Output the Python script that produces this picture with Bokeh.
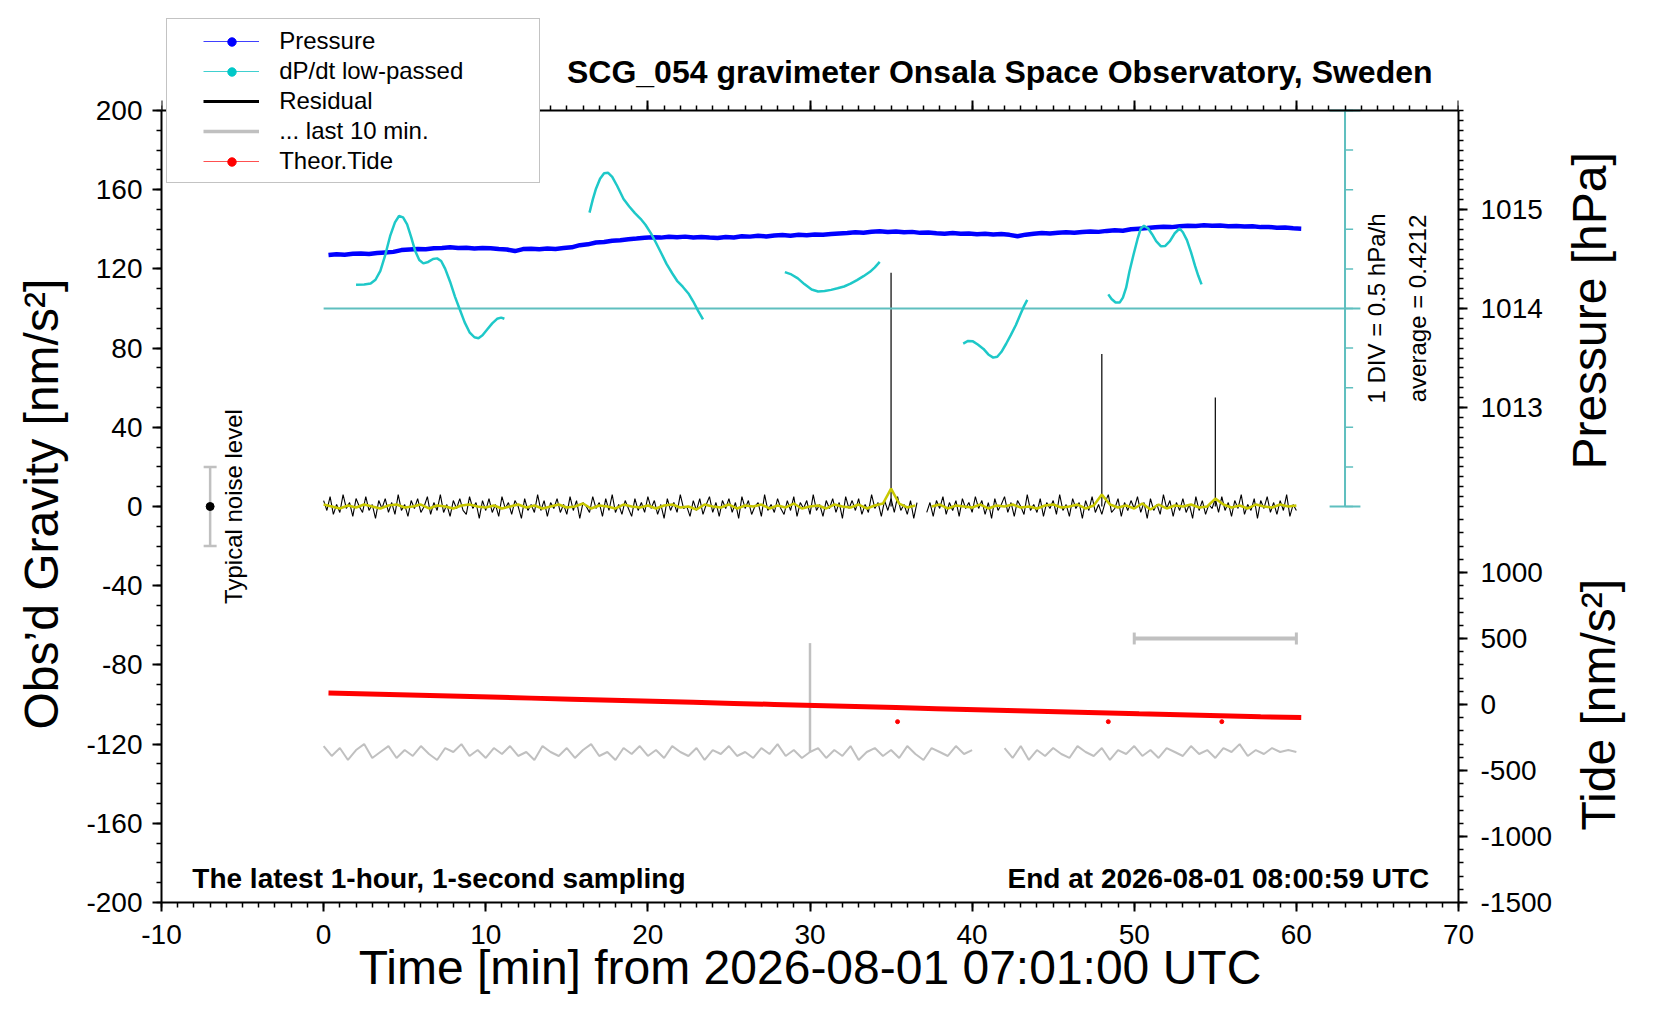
import math
import numpy as np
from bokeh.plotting import figure
from bokeh.layouts import row
from bokeh.models import (Range1d, LinearAxis, SingleIntervalTicker, FixedTicker,
                          PrintfTickFormatter, CustomJSTickFormatter, Label, Legend, LegendItem)
from bokeh.embed import file_html
from bokeh.resources import INLINE

FONT = "Liberation Sans"
nan = float("nan")

# ---------------- data ----------------
# Pressure [hPa], sampled every 0.5 min starting at 0.3 min
pressure_t0, pressure_step = 0.3, 0.5
pressure_hpa = [
    1014.540, 1014.548, 1014.544, 1014.552, 1014.556, 1014.550, 1014.560, 1014.566, 1014.572, 1014.590,
    1014.596, 1014.602, 1014.598, 1014.608, 1014.612, 1014.618, 1014.610, 1014.614, 1014.606, 1014.612,
    1014.608, 1014.600, 1014.596, 1014.580, 1014.600, 1014.604, 1014.598, 1014.606, 1014.602, 1014.610,
    1014.618, 1014.640, 1014.648, 1014.666, 1014.672, 1014.684, 1014.690, 1014.700, 1014.706, 1014.714,
    1014.720, 1014.716, 1014.724, 1014.720, 1014.726, 1014.718, 1014.722, 1014.716, 1014.712, 1014.722,
    1014.718, 1014.730, 1014.726, 1014.734, 1014.728, 1014.738, 1014.742, 1014.736, 1014.744, 1014.740,
    1014.748, 1014.744, 1014.752, 1014.758, 1014.762, 1014.770, 1014.766, 1014.776, 1014.780, 1014.772,
    1014.778, 1014.770, 1014.774, 1014.764, 1014.768, 1014.760, 1014.756, 1014.762, 1014.754, 1014.758,
    1014.750, 1014.754, 1014.748, 1014.752, 1014.744, 1014.730, 1014.746, 1014.756, 1014.762, 1014.758,
    1014.766, 1014.770, 1014.764, 1014.772, 1014.778, 1014.774, 1014.784, 1014.790, 1014.786, 1014.800,
    1014.806, 1014.812, 1014.820, 1014.826, 1014.822, 1014.830, 1014.836, 1014.834, 1014.840, 1014.836,
    1014.838, 1014.832, 1014.834, 1014.828, 1014.830, 1014.822, 1014.824, 1014.816, 1014.818, 1014.810,
    1014.806,
]

# dP/dt low-passed [hPa/h], deviation from the average, in five pieces
dpdt_average = 0.4212
dpdt_t = [
    [2.0, 2.5, 2.9, 3.2, 3.5, 3.8, 4.1, 4.4, 4.65, 4.9, 5.15, 5.4, 5.65, 5.9, 6.15, 6.45, 6.75, 7.0,
     7.25, 7.5, 7.8, 8.1, 8.4, 8.7, 9.0, 9.3, 9.55, 9.8, 10.1, 10.4, 10.7, 10.95, 11.15],
    [16.4, 16.6, 16.8, 17.05, 17.3, 17.55, 17.8, 18.1, 18.5, 18.85, 19.2, 19.55, 19.85, 20.2, 20.5,
     20.85, 21.15, 21.5, 21.8, 22.15, 22.5, 22.8, 23.1, 23.4],
    [28.45, 28.85, 29.25, 29.65, 30.1, 30.5, 30.9, 31.3, 31.7, 32.1, 32.5, 32.9, 33.3, 33.7, 34.0, 34.3],
    [39.45, 39.75, 40.05, 40.35, 40.7, 41.0, 41.3, 41.55, 41.8, 42.1, 42.4, 42.7, 43.0, 43.2, 43.4],
    [48.4, 48.6, 48.85, 49.1, 49.3, 49.5, 49.7, 49.95, 50.2, 50.4, 50.6, 50.85, 51.1, 51.35, 51.65,
     51.9, 52.2, 52.5, 52.8, 53.0, 53.25, 53.5, 53.75, 53.95, 54.15],
]
dpdt_dev = [
    [0.300, 0.303, 0.315, 0.363, 0.475, 0.675, 0.913, 1.088, 1.168, 1.150, 1.063, 0.900, 0.725, 0.613,
     0.570, 0.588, 0.625, 0.633, 0.600, 0.500, 0.338, 0.150, -0.013, -0.175, -0.300, -0.363, -0.375,
     -0.338, -0.263, -0.188, -0.130, -0.115, -0.130],
    [1.210, 1.375, 1.513, 1.638, 1.708, 1.713, 1.663, 1.550, 1.383, 1.288, 1.205, 1.133, 1.058, 0.945,
     0.830, 0.688, 0.563, 0.445, 0.350, 0.275, 0.190, 0.088, -0.030, -0.138],
    [0.460, 0.430, 0.380, 0.308, 0.240, 0.215, 0.220, 0.235, 0.255, 0.278, 0.313, 0.358, 0.408, 0.463,
     0.520, 0.588],
    [-0.443, -0.410, -0.415, -0.455, -0.510, -0.580, -0.620, -0.610, -0.550, -0.445, -0.330, -0.208,
     -0.063, 0.030, 0.108],
    [0.178, 0.120, 0.075, 0.075, 0.138, 0.263, 0.463, 0.675, 0.875, 1.008, 1.045, 1.013, 0.938, 0.850,
     0.785, 0.788, 0.850, 0.950, 1.010, 0.963, 0.863, 0.713, 0.538, 0.413, 0.305],
]

# Residual [nm/s^2], every 0.2 min
residual_step = 0.2
residual = [
    3, -2, 5, -4, 1, -3, 6, -1, 2, -5, 4, 0, -3, 5, -2, 1, -6, 3, -1, 4, -3, 2, -4, 6, -2,
    1, -5, 3, -1, 4, -3, 0, 5, -4, 2, -2, 6, -3, 1, -5, 3, -1, 4, -2, -4, 5, -1, 2, -6, 3,
    -2, 4, -3, 1, -5, 5, -1, 2, -4, 3, 0, -6, 4, -2, 1, -3, 6, -2, 3, -5, 2, -1, 4, -3, 1,
    -4, 5, -2, 3, -6, 2, 0, -3, 5, -1, 2, -5, 4, -2, 6, -3, 1, -4, 3, -1, -5, 4, -2, 2, -3,
    5, -1, 3, -4, 1, -6, 4, -2, 2, -3, 6, -1, 0, -5, 3, -2, 4, -4, 1, 5, -3, 2, -5, 3, -1,
    4, -3, 2, -6, 5, -1, 3, -4, 0, 2, -5, 6, -2, 1, -3, 4, -1, -4, 3, -2, 5, -5, 2, -1, 3,
    -4, 6, -2, 1, -5, 3, -1, 4, -3, 2, -6, 5, -1, 3, -2, 4, -4, 1, -3, 6, -1, 2, -5, 3, -2,
    4, -3, 5, -2, 1, -4, 3, -6, 2, nan, nan, -3, 2, -5, 3, -1, 5, -4, 2, -2, 3, -5, 4, -1, 2,
    -3, 5, -1, 3, -4, 2, -6, 4, -2, 1, 5, -3, 2, -5, 3, 0, -4, 6, -2, 1, -3, 4, -5, 2, -1,
    3, -4, 6, -2, 1, -5, 4, -1, 2, -6, 3, -2, 5, -3, 1, -4, 2, 6, -3, -1, 4, -5, 2, -2, 3,
    -1, 5, -3, 2, -6, 4, -2, 1, -4, 6, -1, 3, -5, 2, -2, 4, -3, 1, -6, 5, -2, 3, -4, 1, -1,
    4, -3, 5, -2, 2, -5, 3, -1, 6, -4, 1, -2, 4, -6, 3, -1, 5, -3, 2, -4, 3, -2, 6, -5, 1,
    -2,
]
residual_spike_t = [35.0, 48.0, 55.0]
residual_spike_v = [118, 77, 55]

# Low-passed residual (yellow), every 0.5 min
smooth_step = 0.5
residual_smooth = [
    1, 0, -1, 0.5, -0.5, 1, 0, -1, 0.5, 1,
    -0.5, 0, 1, -1, 0.5, 0, -1, 0.5, 1, 0,
    -0.5, 0.5, -1, 0, 1, -0.5, 0.5, -1, 0, 1,
    -0.5, 0, 1.5, -1, 0.5, 0, -1, 1, 0, -0.5,
    0.5, -1, 0.5, 1, -0.5, 0, -1.5, 1, 0, -0.5,
    1, -1, 0.5, 0, 1, -1, 0.5, -0.5, 1.5, -1,
    0, 0.5, -1, 1, 0, -0.5, 1, -1, 0.5, 1.5,
    9, 1.5, -0.5, 0.5, nan, 0, 1, -1, 0.5, 0,
    -0.5, 1, -1, 0.5, 0, 1, -0.5, 0, -1, 0.5,
    1, -0.5, 0, 1, -1, 0.5, 6, 1, -0.5, 0.5,
    -1, 1.5, -1.5, 1, -1, 0.5, 0, 1, -0.5, 0,
    4, 1, -0.5, 0.5, -1, 1, 0, -0.5, 1, 0,
    0.5,
]

# "... last 10 min." trace (plotted on the gravity scale), every 0.5 min
last10_step = 0.5
last10 = [
    -121, -126, -122, -128, -123, -120, -127, -124, -121, -127,
    -123, -126, -121, -125, -128, -122, -124, -120, -126, -123,
    -127, -122, -125, -121, -126, -124, -128, -121, -124, -126,
    -122, -127, -123, -120, -126, -124, -128, -122, -125, -121,
    -126, -123, -127, -121, -124, -126, -122, -128, -123, -125,
    -121, -126, -124, -127, -122, -125, -120, -126, -123, -127,
    -124, -122, -127, -123, -126, -121, -128, -124, -122, -126,
    -123, -127, -121, -125, -128, -122, -124, -126, -121, -125,
    -123, nan, nan, nan, -122, -127, -121, -128, -123, -126,
    -122, -125, -127, -121, -124, -126, -122, -128, -123, -125,
    -121, -126, -123, -127, -122, -124, -126, -121, -125, -123,
    -127, -122, -124, -120, -126, -123, -125, -122, -124, -123,
    -124,
]
last10_spike_t = [30.0]
last10_spike_v = [-69]
last10_span = [50, 60]      # minutes covered by the grey trace
last10_span_tide = 500      # level of the span marker on the tide scale

# Theoretical tide [nm/s^2], every 2.5 min from 0.3 min
tide_t0, tide_step = 0.3, 2.5
tide = [87, 79.5, 71.8, 64, 56.2, 48.3, 40.4, 32.5, 24.5, 16.5, 8.5, 0.5, -7.5, -15.5, -23.4,
        -31.3, -39.2, -47, -54.8, -62.5, -70.2, -77.8, -85.3, -92.7, -99]
tide_dot_t = [35.4, 48.4, 55.4]
tide_dot_v = [-130, -130, -130]

# typical noise level
noise_t = -7.0
noise_half = 20

# axis ticks
x_major, x_minor_n = 10, 10
y_major, y_minor_n = 40, 4
pres_major = [1013, 1014, 1015]
pres_bounds = (1012.0, 1016.0)
pres_minor_step = 0.1
tide_major = [-1500, -1000, -500, 0, 500, 1000]
tide_bounds = (-1500, 1500)
tide_minor_step = 100

# scale relations to the gravity axis
P_REF, V_P_REF, NM_PER_HPA = 1014.0, 100.0, 50.0
V_T_REF, TIDE_DIV = -100.0, 15.0
DPDT_LEVEL, DIV_UNITS, DIV_HPAH = 100.0, 20.0, 0.5
DPDT_AXIS_T = 63.0
DPDT_NDIV = 5


def p2v(P):
    return V_P_REF + (P - P_REF) * NM_PER_HPA


def t2v(T):
    return V_T_REF + T / TIDE_DIV


# ---------------- layout ----------------
W_TOTAL, H = 1644, 1004
W = 1560                       # main figure; the rest holds the right-hand axis titles
B_LEFT, B_RIGHT, B_TOP, B_BOTTOM = 161, W - 1458, 12, 102
GRAV = (-200, 200)             # gravity axis extent (the box)
PX_PER_UNIT = 792 / 400.0
frame_h = H - B_TOP - B_BOTTOM
XR = (-10, 70)
YR = (GRAV[0], GRAV[0] + frame_h / PX_PER_UNIT)   # frame reaches above the box for title/legend
k_dpdt = DIV_UNITS / DIV_HPAH
NB = "\u00a0"

p = figure(width=W, height=H, x_range=Range1d(*XR), y_range=Range1d(*YR),
           output_backend="svg", toolbar_location=None,
           x_axis_location=None, y_axis_location=None,
           min_border_left=B_LEFT, min_border_right=B_RIGHT, min_border_top=B_TOP,
           min_border_bottom=B_BOTTOM,
           background_fill_color="white", border_fill_color="white",
           outline_line_color=None)
p.grid.visible = False
try:
    p.title = None
except Exception:
    p.title.visible = False

p.extra_y_ranges = {
    "pres": Range1d((YR[0] - V_P_REF) / NM_PER_HPA + P_REF, (YR[1] - V_P_REF) / NM_PER_HPA + P_REF),
    "tide": Range1d((YR[0] - V_T_REF) * TIDE_DIV, (YR[1] - V_T_REF) * TIDE_DIV),
    "dpdt": Range1d((YR[0] - DPDT_LEVEL) / k_dpdt, (YR[1] - DPDT_LEVEL) / k_dpdt),
}


def style_axis(ax, tick_out=9, minor_out=5):
    ax.axis_line_color = "black"
    ax.axis_line_width = 2
    ax.major_tick_in = 0
    ax.major_tick_out = tick_out
    ax.minor_tick_in = 0
    ax.minor_tick_out = minor_out
    ax.major_tick_line_width = 2
    ax.minor_tick_line_width = 1.5
    ax.major_label_text_font = FONT
    ax.major_label_text_font_size = "28px"
    ax.major_label_text_color = "black"
    ax.axis_label_text_font = FONT
    ax.axis_label_text_font_size = "48px"
    ax.axis_label_text_font_style = "normal"
    ax.axis_label_text_color = "black"


xb = LinearAxis(ticker=SingleIntervalTicker(interval=x_major, num_minor_ticks=x_minor_n),
                formatter=PrintfTickFormatter(format="%d"), bounds=XR,
                axis_label="Time [min] from 2026-08-01 07:01:00 UTC")
style_axis(xb)
xb.major_label_standoff = 13
xb.axis_label_standoff = -6
p.add_layout(xb, "below")

xt = LinearAxis(ticker=SingleIntervalTicker(interval=x_major, num_minor_ticks=x_minor_n),
                bounds=XR, fixed_location=GRAV[1])
style_axis(xt, tick_out=10)
xt.major_label_text_alpha = 0
xt.major_label_text_font_size = "1px"
xt.major_label_standoff = 0
p.add_layout(xt, "above")

# the label is centred on the (taller) frame; trailing spaces shift it onto the box centre
yl = LinearAxis(ticker=SingleIntervalTicker(interval=y_major, num_minor_ticks=y_minor_n),
                formatter=PrintfTickFormatter(format="%d"), bounds=GRAV,
                axis_label="Obs\u2019d Gravity [nm/s\u00b2]" + NB * 7)
style_axis(yl)
yl.major_label_standoff = 10
yl.axis_label_standoff = 15
p.add_layout(yl, "left")

pres_minor = np.round(np.arange(pres_bounds[0], pres_bounds[1] + 1e-9, pres_minor_step), 3)
tide_minor = np.arange(tide_bounds[0], tide_bounds[1] + 1, tide_minor_step)
right_ticker = FixedTicker(
    ticks=[p2v(v) for v in pres_major] + [t2v(v) for v in tide_major],
    minor_ticks=[p2v(v) for v in pres_minor] + [t2v(v) for v in tide_minor])
right_fmt = CustomJSTickFormatter(
    args=dict(P0=P_REF, VP=V_P_REF, KP=NM_PER_HPA, VT=V_T_REF, KT=TIDE_DIV),
    code="""
    if (tick > 0.5) { return (P0 + (tick - VP) / KP).toFixed(0); }
    return ((tick - VT) * KT).toFixed(0);
    """)
yr = LinearAxis(ticker=right_ticker, formatter=right_fmt, bounds=GRAV)
style_axis(yr)
yr.major_label_standoff = 13
p.add_layout(yr, "right")

# ---------------- data glyphs ----------------
last10_x = np.arange(len(last10)) * last10_step
p.line(last10_x, last10, line_color="#c0c0c0", line_width=2)
p.segment(x0=last10_spike_t, y0=[last10[int(round(t / last10_step))] for t in last10_spike_t],
          x1=last10_spike_t, y1=last10_spike_v, line_color="#c0c0c0", line_width=2.5)

tide_x = tide_t0 + np.arange(len(tide)) * tide_step
p.line(tide_x, tide, y_range_name="tide", line_color="#ff0000", line_width=5)
p.scatter(tide_dot_t, tide_dot_v, y_range_name="tide", size=4, color="#ff0000")

res_x = np.arange(len(residual)) * residual_step
p.line(res_x, residual, line_color="black", line_width=1.1)
p.segment(x0=residual_spike_t, y0=[0] * len(residual_spike_t), x1=residual_spike_t,
          y1=residual_spike_v, line_color="black", line_width=1.2)
sm_x = np.arange(len(residual_smooth)) * smooth_step
p.line(sm_x, residual_smooth, line_color="#c8c800", line_width=2.5)

pres_x = pressure_t0 + np.arange(len(pressure_hpa)) * pressure_step
p.line(pres_x, pressure_hpa, y_range_name="pres", line_color="#0000ff", line_width=4.5)

# dP/dt reference axis (teal)
teal = "#5fbfbf"
lev = np.arange(-DPDT_NDIV, DPDT_NDIV + 1) * DIV_HPAH
p.segment(x0=[0], y0=[0], x1=[DPDT_AXIS_T + 0.95], y1=[0], y_range_name="dpdt",
          line_color=teal, line_width=2)
p.segment(x0=[DPDT_AXIS_T], y0=[lev[0]], x1=[DPDT_AXIS_T], y1=[lev[-1]], y_range_name="dpdt",
          line_color=teal, line_width=2)
p.segment(x0=[DPDT_AXIS_T] * len(lev), y0=lev, x1=[DPDT_AXIS_T + 0.5] * len(lev), y1=lev,
          y_range_name="dpdt", line_color=teal, line_width=1.5)
p.segment(x0=[DPDT_AXIS_T - 0.95] * 2, y0=[lev[0], lev[-1]], x1=[DPDT_AXIS_T + 0.95] * 2,
          y1=[lev[0], lev[-1]], y_range_name="dpdt", line_color=teal, line_width=2)
p.multi_line(xs=dpdt_t, ys=dpdt_dev, y_range_name="dpdt", line_color="#1ec8c8", line_width=2.5)

# span of last 10 min (grey bar on tide scale)
p.segment(x0=[last10_span[0]], y0=[last10_span_tide], x1=[last10_span[1]], y1=[last10_span_tide],
          y_range_name="tide", line_color="#c0c0c0", line_width=4)
p.segment(x0=last10_span, y0=[last10_span_tide - 45] * 2, x1=last10_span,
          y1=[last10_span_tide + 45] * 2, y_range_name="tide", line_color="#c0c0c0", line_width=3)

# typical noise level
p.segment(x0=[noise_t], y0=[-noise_half], x1=[noise_t], y1=[noise_half], line_color="#c0c0c0",
          line_width=2.5)
p.segment(x0=[noise_t - 0.4] * 2, y0=[-noise_half, noise_half], x1=[noise_t + 0.4] * 2,
          y1=[-noise_half, noise_half], line_color="#c0c0c0", line_width=2.5)
p.scatter([noise_t], [0], size=8, color="black")


# ---------------- texts ----------------
def add_label(fig, x, y, text, size, bold=False, align="left", baseline="alphabetic", angle=0):
    fig.add_layout(Label(x=x, y=y, text=text, text_font=FONT, text_font_size=size,
                         text_font_style="bold" if bold else "normal", text_color="black",
                         text_align=align, text_baseline=baseline, angle=angle, angle_units="deg"))


add_label(p, 68.4, 219.2, "SCG_054 gravimeter Onsala Space Observatory, Sweden", "32px", bold=True,
          align="right")
add_label(p, -8.1, -188, "The latest 1-hour, 1-second sampling", "28px", bold=True)
add_label(p, 68.2, -188, "End at 2026-08-01 08:00:59 UTC", "28px", bold=True, align="right")
add_label(p, 64.96, 100, "1 DIV = %g hPa/h" % DIV_HPAH, "24px", align="center", baseline="middle",
          angle=90)
add_label(p, 67.45, 100, "average = %.4f" % dpdt_average, "24px", align="center", baseline="middle",
          angle=90)
add_label(p, -5.54, 0, "Typical noise level", "24px", align="center", baseline="middle", angle=90)

# ---------------- legend ----------------
OFF = dict(x=[-1000], y=[-1000])
l_none = p.line(line_alpha=0, **OFF)
lp_line = p.line(line_color="#4040ff", line_width=1, **OFF)
lc_line = p.line(line_color="#40d0d0", line_width=1, **OFF)
lr_line = p.line(line_color="black", line_width=3, **OFF)
lg_line = p.line(line_color="#c0c0c0", line_width=3.5, **OFF)
lt_line = p.line(line_color="#ff5050", line_width=1, **OFF)
lp_dot = p.scatter(marker="circle", fill_color="#0000ff", line_color="#0000ff", **OFF)
lc_dot = p.scatter(marker="circle", fill_color="#00c8c8", line_color="#00c8c8", **OFF)
lt_dot = p.scatter(marker="circle", fill_color="#ff0000", line_color="#ff0000", **OFF)

legend_box = Legend(items=[LegendItem(label=" ", renderers=[l_none])], location=(4.6, 719.5),
                    padding=0, margin=0, glyph_width=1, glyph_height=163, label_width=371,
                    label_height=163, label_standoff=0, spacing=0,
                    border_line_color="#888888", border_line_width=1,
                    background_fill_color="white", background_fill_alpha=1,
                    label_text_font_size="1px")
p.add_layout(legend_box)

legend_main = Legend(items=[
    LegendItem(label="Pressure", renderers=[lp_line]),
    LegendItem(label="dP/dt low-passed", renderers=[lc_line]),
    LegendItem(label="Residual", renderers=[lr_line]),
    LegendItem(label="... last 10 min.", renderers=[lg_line]),
    LegendItem(label="Theor.Tide", renderers=[lt_line]),
], location=(42.2, 725.8), padding=0, margin=0, glyph_width=56, glyph_height=30, label_height=30,
    spacing=0, label_standoff=20, border_line_color=None, background_fill_alpha=0,
    label_text_font=FONT, label_text_font_size="24px", label_text_color="black")
p.add_layout(legend_main)

legend_dots = Legend(items=[
    LegendItem(label=" ", renderers=[lp_dot]),
    LegendItem(label=" ", renderers=[lc_dot]),
    LegendItem(label=" ", renderers=[l_none]),
    LegendItem(label=" ", renderers=[l_none]),
    LegendItem(label=" ", renderers=[lt_dot]),
], location=(59.5, 725.8), padding=0, margin=0, glyph_width=21, glyph_height=21, label_height=30,
    spacing=0, label_standoff=0, border_line_color=None, background_fill_alpha=0,
    label_text_font_size="1px")
p.add_layout(legend_dots)

# ---------------- right-hand axis titles (separate strip, frame aligned with the main one) ------
W2 = W_TOTAL - W
p2 = figure(width=W2, height=H, x_range=Range1d(0, W2), y_range=Range1d(*YR),
            output_backend="svg", toolbar_location=None,
            x_axis_location=None, y_axis_location=None,
            min_border_left=0, min_border_right=0, min_border_top=B_TOP, min_border_bottom=B_BOTTOM,
            background_fill_color="white", border_fill_color="white", outline_line_color=None)
p2.grid.visible = False
try:
    p2.title = None
except Exception:
    p2.title.visible = False
add_label(p2, 29.1, 98.8, "Pressure [hPa]", "48px", align="center", baseline="middle", angle=90)
add_label(p2, 37.6, -100.1, "Tide [nm/s\u00b2]", "48px", align="center", baseline="middle", angle=90)

layout = row(p, p2)
open("out.html", "w").write(file_html(layout, INLINE))
